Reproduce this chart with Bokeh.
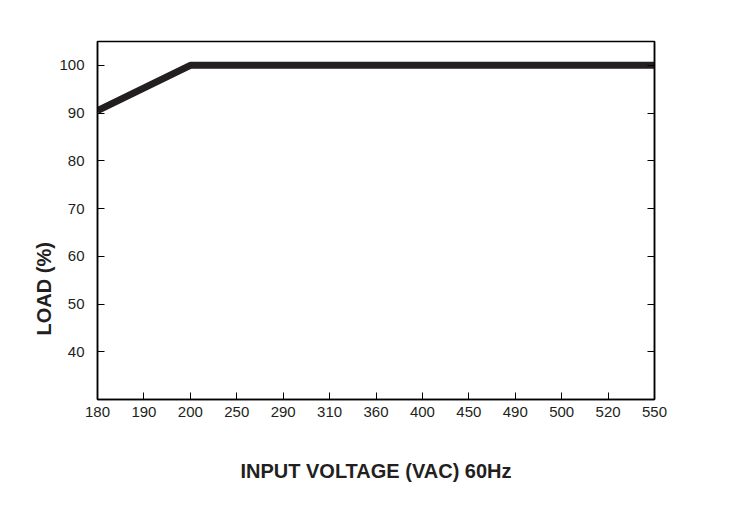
from bokeh.plotting import figure
from bokeh.models import LinearAxis, FixedTicker, Range1d, Title
from bokeh.embed import file_html
from bokeh.resources import INLINE

x_labels = ["180", "190", "200", "250", "290", "310", "360", "400", "450", "490", "500", "520", "550"]
y_ticks = [40, 50, 60, 70, 80, 90, 100]
voltage = ["180", "200", "550"]
load = [90.5, 100, 100]

xs = [x_labels.index(v) for v in voltage]

FONT = "Liberation Sans"
INK = "#231f20"

p = figure(width=715, height=494, output_backend="svg", toolbar_location=None,
           x_range=Range1d(0, len(x_labels) - 1), y_range=Range1d(30, 105),
           min_border_left=97, min_border_right=61, min_border_top=41, min_border_bottom=95,
           x_axis_location="below", y_axis_location="left")
p.grid.visible = False
p.outline_line_color = "black"
p.outline_line_width = 1.5
p.background_fill_color = "white"
p.border_fill_color = "white"

p.line(xs, load, line_width=7, line_color=INK)

xa = p.xaxis[0]
xa.ticker = FixedTicker(ticks=list(range(len(x_labels))))
xa.major_label_overrides = {i: s for i, s in enumerate(x_labels)}
xa.major_tick_in = 7
xa.major_tick_out = 0
xa.minor_tick_in = 0
xa.minor_tick_out = 0
xa.major_label_text_font = FONT
xa.major_label_text_font_size = "15px"
xa.major_label_text_color = INK
xa.major_label_standoff = 7
xa.axis_line_color = "black"
xa.axis_line_width = 1.5
xa.axis_label = "INPUT VOLTAGE (VAC) 60Hz"
xa.axis_label_text_font = FONT
xa.axis_label_text_font_style = "bold"
xa.axis_label_text_font_size = "20px"
xa.axis_label_text_color = INK
xa.axis_label_standoff = 40

ya = p.yaxis[0]
ya.ticker = FixedTicker(ticks=y_ticks)
ya.major_tick_in = 7
ya.major_tick_out = 0
ya.minor_tick_in = 0
ya.minor_tick_out = 0
ya.major_label_text_font = FONT
ya.major_label_text_font_size = "15px"
ya.major_label_text_color = INK
ya.major_label_standoff = 13
ya.axis_line_color = "black"
ya.axis_line_width = 1.5

ra = LinearAxis(ticker=FixedTicker(ticks=y_ticks),
                major_label_overrides={t: "" for t in y_ticks},
                major_tick_in=7, major_tick_out=0, minor_tick_in=0, minor_tick_out=0,
                axis_line_color="black", axis_line_width=1.5, major_label_standoff=0)
p.add_layout(ra, "right")

ytitle = Title(text="LOAD (%)", align="left", offset=64, text_font=FONT,
               text_font_style="bold", text_font_size="20px", text_color=INK, standoff=4)
p.add_layout(ytitle, "left")

open("out.html", "w").write(file_html(p, INLINE))
